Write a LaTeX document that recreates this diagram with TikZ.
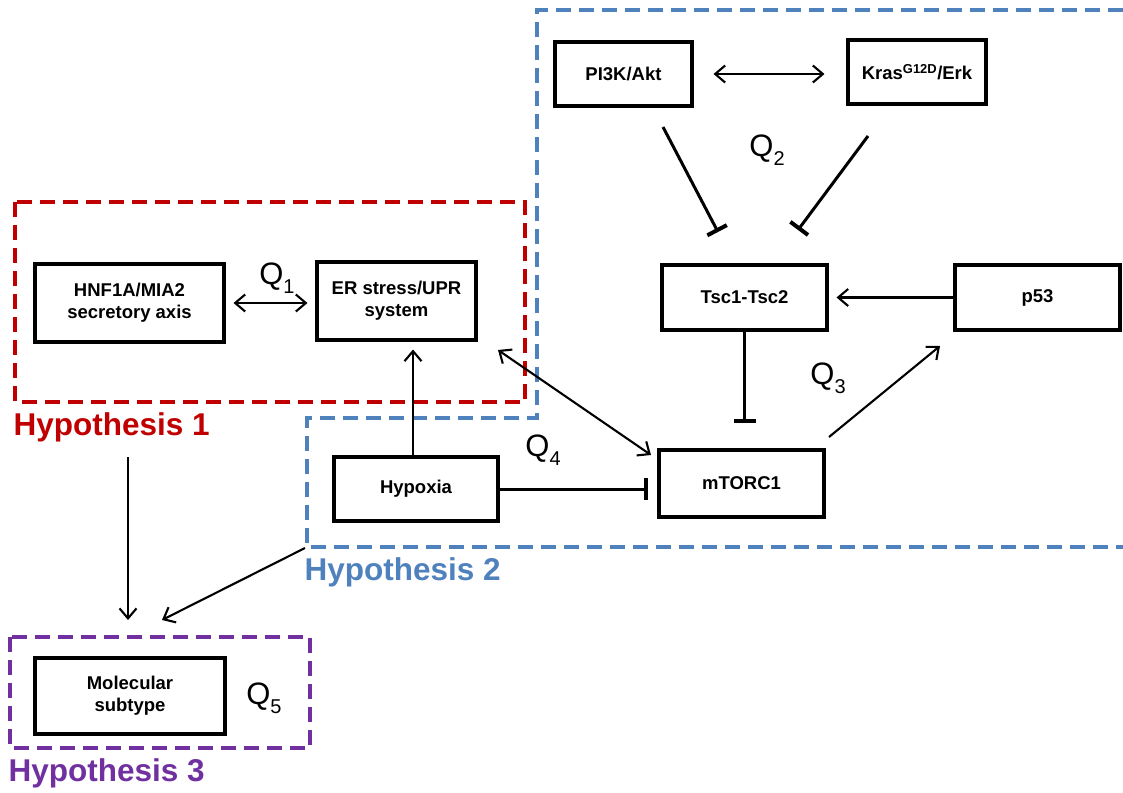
\documentclass[tikz,border=0pt]{standalone}
\usepackage{fontspec}
\setmainfont{Liberation Sans}
\usetikzlibrary{arrows.meta}
\definecolor{hred}{RGB}{192,0,0}
\definecolor{hblue}{RGB}{79,129,189}
\definecolor{hpurple}{RGB}{112,48,160}
\newcommand{\qlab}[1]{Q\raisebox{-0.28em}{\fontsize{20}{20}\selectfont #1}}
\begin{document}
\begin{tikzpicture}[x=1pt,y=-1pt,
  box/.style={draw=black,line width=3.05pt,inner sep=0pt,align=center,
    font=\fontsize{18.5}{22}\selectfont\bfseries},
  act/.style={line width=2.1pt,-{Straight Barb[length=10pt,width=17pt,line width=2.1pt]}},
  dact/.style={line width=2.1pt,{Straight Barb[length=10pt,width=17pt,line width=2.1pt]}-{Straight Barb[length=10pt,width=17pt,line width=2.1pt]}},
  inh/.style={line width=3pt,-{Bar[width=22pt,line width=4pt]}},
  qtext/.style={font=\fontsize{31}{33}\selectfont},
  htext/.style={font=\fontsize{31.5}{36}\selectfont\bfseries,anchor=west},
  dashbox/.style={line width=3.05pt,dash pattern=on 15pt off 8pt}
]
\useasboundingbox (0,0) rectangle (1123,792);
% group outlines
\draw[dashbox,hred] (15,202) rectangle (525,402);
\draw[dashbox,hblue] (1123,10) -- (537,10) -- (537,418) -- (307,418) -- (307,547) -- (1123,547);
\draw[dashbox,hpurple] (10,637) rectangle (310,748);
\node[htext,text=hred] (h1) at (10,427) {Hypothesis 1};
\node[htext,text=hblue] (h2) at (301,572) {Hypothesis 2};
\node[htext,text=hpurple] (h3) at (5,773) {Hypothesis 3};
% boxes
\node[box,minimum width=137pt,minimum height=64pt] (pi) at (623.5,74) {PI3K/Akt};
\node[box,minimum width=138pt,minimum height=64pt] (kras) at (917,72) {Kras\textsuperscript{G12D}/Erk};
\node[box,minimum width=165pt,minimum height=65pt] (tsc) at (744.5,297.5) {Tsc1-Tsc2};
\node[box,minimum width=165pt,minimum height=65pt] (p53) at (1037.5,297.5) {p53};
\node[box,minimum width=165pt,minimum height=67pt] (mtor) at (741.5,483.5) {mTORC1};
\node[box,minimum width=159pt,minimum height=78pt] (er) at (396.5,301) {ER stress/UPR\\system};
\node[box,minimum width=189pt,minimum height=78pt] (hnf) at (129.5,303) {HNF1A/MIA2\\secretory axis};
\node[box,minimum width=164pt,minimum height=64pt] (hyp) at (416,489) {Hypoxia};
\node[box,minimum width=190pt,minimum height=76pt] (mol) at (130,696) {Molecular\\subtype};
% Q labels
\node[qtext] (q1) at (277,278) {\qlab{1}};
\node[qtext] (q2) at (767,150) {\qlab{2}};
\node[qtext] (q3) at (828,378) {\qlab{3}};
\node[qtext] (q4) at (543,450) {\qlab{4}};
\node[qtext] (q5) at (264,698) {\qlab{5}};
% free ends
\coordinate (a1) at (663,127);
\coordinate (a2) at (718,232);
\coordinate (b1) at (868,136);
\coordinate (b2) at (798,230);
\coordinate (c1) at (829,437);
\coordinate (c2) at (940,346);
\coordinate (d1) at (498,350);
\coordinate (d2) at (651,455);
\coordinate (e1) at (128,457);
\coordinate (e2) at (128,620);
\coordinate (f1) at (305,548);
\coordinate (f2) at (162,620);
% connectors
\draw[dact,shorten <=20pt,shorten >=22pt] (pi.east) -- (kras.west |- pi.east);
\draw[inh] (a1) -- (a2);
\draw[inh] (b1) -- (b2);
\draw[act,shorten >=8pt] (p53.west) -- (tsc.east);
\draw[inh,shorten >=25pt] (tsc.south) -- (tsc.south |- mtor.north);
\draw[act] (c1) -- (c2);
\draw[dact,shorten <=8pt,shorten >=8pt] (hnf.east) -- (er.west |- hnf.east);
\draw[act,shorten >=8pt] (hyp.north -| 413,0) -- (er.south -| 413,0);
\draw[inh,shorten >=9pt] (hyp.east) -- (mtor.west |- hyp.east);
\draw[dact] (d1) -- (d2);
\draw[act] (e1) -- (e2);
\draw[act] (f1) -- (f2);
\end{tikzpicture}
\end{document}
